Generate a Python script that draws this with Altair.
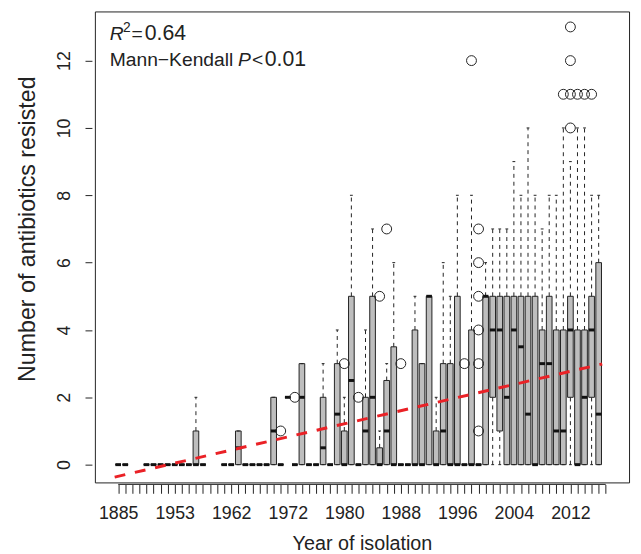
import json
import altair as alt
import pandas as pd

N = None
FONT = "Liberation Sans"
INK = "#222222"

# Axis tick labels shown on every 8th box position (positions 1, 9, 17, ...)
tick_labels = ["1885", "1953", "1962", "1972", "1980", "1988", "1996", "2004", "2012"]
n_slots = 70

# Box statistics per slot (None = empty slot)
lo = [0, 0, N, N, 0, 0, 0, 0, 0, 0,
      0, 0, 0, N, N, 0, 0, 0, 0, 0,
      0, 0, 0, 0, 2, 0, 0, 0, 0, 0,
      0, 0, 0, 0, 0, 0, 0, 0, 0, 0,
      0, 0, 0, 0, 0, 0, 0, 0, 0, 0,
      0, 0, 0, 0, 0, 0, 0, 0, 0, 0,
      0, 0, 0, 0, 0, 0, 0, 0, 0, N]
q1 = [0, 0, N, N, 0, 0, 0, 0, 0, 0,
      0, 0, 0, N, N, 0, 0, 0, 0, 0,
      0, 0, 0, 0, 2, 0, 0, 0, 0, 0,
      0, 0, 0, 0, 0, 0, 0, 0, 0, 0,
      0, 0, 0, 0, 0, 0, 0, 0, 0, 0,
      0, 0, 0, 2, 1, 0, 0, 0, 0, 0,
      0, 0, 0, 0, 2, 0, 0, 2, 0, N]
med = [0, 0, N, N, 0, 0, 0, 0, 0, 0,
       0, 0, 0, N, N, 0, 0, 0.5, 0, 0,
       0, 0, 1, 0, 2, 0, 2, 0, 0, 0.5,
       0, 1.5, 0, 2.5, 0, 1, 2, 0, 1, 0,
       0, 0, 0, 0, 5, 0, 1, 0, 0, 0,
       0, 0, 5, 4, 4, 2, 4, 3.5, 1.5, 0,
       3, 3, 1, 1, 4, 0, 2, 4, 1.5, N]
q3 = [0, 0, N, N, 0, 0, 0, 0, 0, 0,
      0, 1, 0, N, N, 0, 0, 1, 0, 0,
      0, 0, 2, 0, 2, 0, 3, 0, 0, 2,
      0, 3, 1, 5, 0, 2, 5, 0.5, 2.5, 3.5,
      0, 0, 4, 3, 5, 1, 3, 3, 5, 0,
      4, 0, 5, 5, 5, 5, 5, 5, 5, 5,
      4, 5, 4, 4, 5, 4, 4, 5, 6, N]
hi = [0, 0, N, N, 0, 0, 0, 0, 0, 0,
      0, 2, 0, N, N, 0, 0, 1, 0, 0,
      0, 0, 2, 0, 2, 0, 3, 0, 0, 3,
      0, 4, 2, 8, 0, 4, 7, 1, 3, 6,
      0, 0, 5, 3, 5, 2, 6, 5, 8, 0,
      8, 0, 6, 7, 7, 7, 9, 8, 10, 8,
      7, 8, 8, 10, 9, 10, 10, 8, 8, N]

# Outliers (slot, value)
out_idx = [24, 26, 33, 35, 38, 39, 41, 50, 51, 52, 52, 52, 52, 52, 52,
           64, 65, 65, 65, 65, 66, 67, 68]
out_val = [1, 2, 3, 2, 5, 7, 3, 3, 12, 1, 3, 4, 5, 6, 7,
           11, 10, 11, 12, 13, 11, 11, 11]

# Linear trend (per slot)
trend_intercept = -0.394
trend_slope = 0.0487
r2_text = "0.64"
p_text = "0.01"

rows = []
for i in range(n_slots):
    if q3[i] is None:
        continue
    rows.append({"idx": i + 1, "lo": lo[i], "q1": q1[i], "med": med[i],
                 "q3": q3[i], "hi": hi[i]})
box_df = pd.DataFrame(rows)
out_df = pd.DataFrame({"idx": out_idx, "val": out_val})
first, last = int(box_df.idx.min()), int(box_df.idx.max())
trend_df = pd.DataFrame({"idx": [first - 0.5, last + 0.5]})
trend_df["val"] = trend_intercept + trend_slope * trend_df["idx"]
one_df = pd.DataFrame({"a": [1], "b": [n_slots]})

W, H = 541, 477
xs = alt.Scale(domain=[0.5 - 0.04 * n_slots, n_slots + 0.5 + 0.04 * n_slots], nice=False, zero=False)
ys = alt.Scale(domain=[-0.528, 13.46], nice=False, zero=False)

label_expr = ("(datum.value - 1) % 8 == 0 ? " + json.dumps(tick_labels)
              + "[(datum.value - 1) / 8] : ''")
xaxis = alt.Axis(values=list(range(1, n_slots + 1)), labelExpr=label_expr,
                 labelOverlap=False, labelFlush=False, domain=False, grid=False,
                 tickSize=9, tickColor=INK, tickWidth=1, offset=2,
                 labelFont=FONT, labelFontSize=18, labelColor=INK, labelPadding=12,
                 title="Year of isolation", titleFont=FONT, titleFontSize=20,
                 titleFontWeight="normal", titleColor=INK, titlePadding=11)
yaxis = alt.Axis(values=[0, 2, 4, 6, 8, 10, 12], domain=False, grid=False,
                 tickSize=7, tickColor=INK, tickWidth=1, offset=3,
                 labelAngle=270, labelAlign="center", labelBaseline="bottom",
                 labelFont=FONT, labelFontSize=18, labelColor=INK, labelPadding=12,
                 title="Number of antibiotics resisted", titleFont=FONT,
                 titleFontSize=23.5, titleFontWeight="normal", titleColor=INK,
                 titlePadding=16, titleY=220)


def X(field):
    return alt.X(field, type="quantitative", scale=xs, axis=xaxis)


def Y(field):
    return alt.Y(field, type="quantitative", scale=ys, axis=yaxis)


base = alt.Chart(box_df).transform_calculate(
    xl="datum.idx - 0.4", xr="datum.idx + 0.4",
    sl="datum.idx - 0.2", sr="datum.idx + 0.2")

upper_whisker = base.transform_filter("datum.hi > datum.q3").mark_rule(
    color=INK, strokeWidth=1, strokeDash=[4, 4]).encode(
    x=X("idx"), y=Y("q3"), y2="hi:Q")
lower_whisker = base.transform_filter("datum.q1 > datum.lo").mark_rule(
    color=INK, strokeWidth=1, strokeDash=[4, 4]).encode(
    x=X("idx"), y=Y("lo"), y2="q1:Q")
staple_hi = base.mark_rule(color=INK, strokeWidth=1).encode(
    x=X("sl"), x2="sr:Q", y=Y("hi"))
staple_lo = base.mark_rule(color=INK, strokeWidth=1).encode(
    x=X("sl"), x2="sr:Q", y=Y("lo"))
boxes = base.mark_rect(fill="#bebebe", stroke=INK, strokeWidth=1).encode(
    x=X("xl"), x2="xr:Q", y=Y("q1"), y2="q3:Q")
medians = base.mark_rule(color="#111111", strokeWidth=3, strokeCap="butt").encode(
    x=X("xl"), x2="xr:Q", y=Y("med"))
outliers = alt.Chart(out_df).mark_point(shape="circle", filled=False, size=100,
                                        color=INK, strokeWidth=1, opacity=1).encode(
    x=X("idx"), y=Y("val"))
trend = alt.Chart(trend_df).mark_line(color="#ea2126", strokeWidth=3,
                                      strokeDash=[11, 10], strokeCap="butt").encode(
    x=X("idx"), y=Y("val"))
x_axis_line = alt.Chart(one_df).mark_rule(color=INK, strokeWidth=1).encode(
    x=X("a"), x2="b:Q", y=alt.value(H + 2))


def label(txt, x, y, italic=False, size=19.5):
    return alt.Chart(one_df).mark_text(
        text=txt, align="left", baseline="alphabetic", font=FONT, fontSize=size,
        fontStyle="italic" if italic else "normal", color=INK).encode(
        x=alt.value(x), y=alt.value(y))


annotations = [
    label("R", 15, 29, italic=True),
    label("2", 28.5, 21, size=14),
    label("=", 37, 29),
    label(r2_text, 50.5, 29, size=21.5),
    label("Mann\u2212Kendall", 15, 55),
    label("P", 145, 55, italic=True),
    label("<", 159, 55),
    label(p_text, 172, 55, size=21.5),
]

chart = alt.layer(
    boxes, upper_whisker, lower_whisker, staple_hi, staple_lo, medians,
    outliers, trend, x_axis_line, *annotations
).properties(
    width=W, height=H,
    autosize=alt.AutoSizeParams(type="none"),
    padding={"left": 88, "top": 0, "right": 4, "bottom": 69},
).configure_view(stroke="#222222", strokeWidth=1)

chart.save("out.html", embed_options={"renderer": "svg", "actions": False})
